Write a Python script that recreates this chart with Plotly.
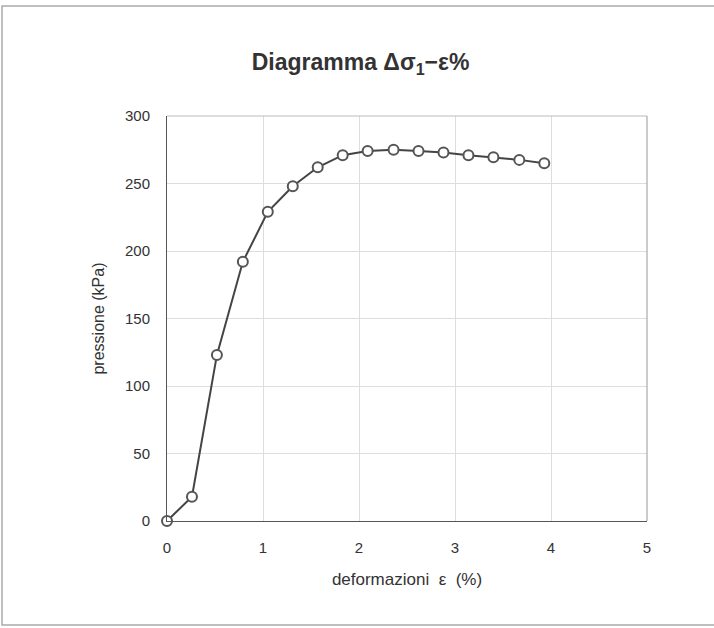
import plotly.graph_objects as go

strain = [0, 0.26, 0.52, 0.79, 1.05, 1.31, 1.57, 1.83, 2.09, 2.36, 2.62, 2.88, 3.14, 3.40, 3.67, 3.93]
stress = [0, 18, 123, 192, 229, 248, 262, 271, 274, 275, 274, 273, 271, 269.5, 267.5, 265]

x_ticks = [0, 1, 2, 3, 4, 5]
y_ticks = [0, 50, 100, 150, 200, 250, 300]

W, H = 714, 628
L, R, T, B = 167, 67, 116, 107
pw, ph = W - L - R, H - T - B

def px(x):
    return (x - L) / pw

def py(y):
    return (H - B - y) / ph

fig = go.Figure()
fig.add_trace(go.Scatter(
    x=strain, y=stress, mode="lines+markers",
    line=dict(color="#444444", width=2),
    marker=dict(symbol="circle", size=10, color="white",
                line=dict(color="#555555", width=2)),
    cliponaxis=False, showlegend=False,
))

fig.update_layout(
    width=W, height=H,
    margin=dict(l=L, r=R, t=T, b=B),
    paper_bgcolor="white", plot_bgcolor="white",
    font=dict(family="Liberation Sans, Arial, sans-serif", color="#333333", size=15),
    title=dict(text="<b>Diagramma Δσ<sub>1</sub>−ε%</b>", x=0.505, xref="container",
               xanchor="center", y=1 - 62 / H, yanchor="middle",
               font=dict(size=23, color="#333333")),
    xaxis=dict(range=[0, 5], tickvals=x_ticks, showgrid=True, gridcolor="#dddddd",
               gridwidth=1, zeroline=False, showline=True, linecolor="#555555",
               linewidth=1, ticks="", ticklen=0, ticklabelstandoff=13,
               tickfont=dict(size=15),
               title=dict(text="deformazioni  ε  (%)", font=dict(size=17), standoff=18)),
    yaxis=dict(range=[0, 300], tickvals=y_ticks, showgrid=True, gridcolor="#dddddd",
               gridwidth=1, zeroline=False, showline=True, linecolor="#555555",
               linewidth=1, ticks="", ticklen=0, ticklabelstandoff=13,
               tickfont=dict(size=15),
               title=dict(text="pressione (kPa)", font=dict(size=16), standoff=16)),
    shapes=[
        dict(type="line", xref="paper", yref="paper", x0=0, x1=1, y0=1, y1=1,
             line=dict(color="#bbbbbb", width=1)),
        dict(type="line", xref="paper", yref="paper", x0=1, x1=1, y0=0, y1=1,
             line=dict(color="#999999", width=1)),
        dict(type="rect", xref="paper", yref="paper",
             x0=px(2), x1=px(716), y0=py(6), y1=py(625),
             line=dict(color="#aaaaaa", width=1.5), layer="below"),
    ],
)

fig.write_html("out.html")
